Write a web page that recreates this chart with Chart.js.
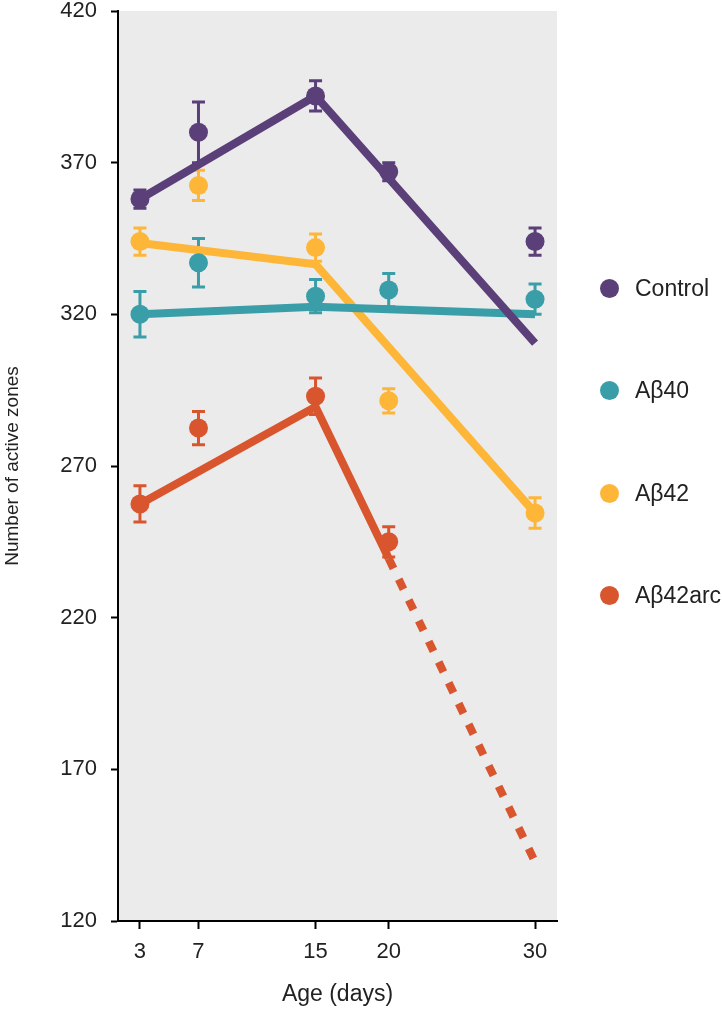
<!DOCTYPE html>
<html>
<head>
<meta charset="utf-8">
<title>Active zones by age</title>
<script src="https://cdn.jsdelivr.net/npm/chart.js@4.4.0/dist/chart.umd.min.js"></script>
<style>
  body { margin: 0; background: #fff; font-family: "Liberation Sans", Arial, sans-serif; }
  #wrap { position: relative; width: 722px; height: 1009px; }
  #legend .item { position: absolute; left: 600px; height: 20px; display: flex; align-items: center; font-size: 23px; color: #222; }
  #legend .dot { width: 19px; height: 19px; border-radius: 50%; margin-right: 16px; }
</style>
</head>
<body>
<div id="wrap">
  <canvas id="chart" width="722" height="1009"></canvas>
  <div id="legend"></div>
</div>
<script>
/* ages on the x axis */
const ages = [3, 7, 15, 20, 30];
const groups = ["Control", "Aβ40", "Aβ42", "Aβ42arc"];
const colors = ["#5a3f78", "#3a9ea9", "#fdb638", "#d9552e"];

// means and error (+/-)
const controlMean = [358, 380, 392, 367, 344];
const controlErr  = [3, 10, 5, 3, 4.5];
const ab40Mean    = [320, 337, 326, 328, 325];
const ab40Err     = [7.5, 8, 5.5, 5.5, 5];
const ab42Mean    = [344, 362.5, 342, 291.5, 254.5];
const ab42Err     = [4.5, 5, 4.5, 4, 5];
const arcMean     = [257.5, 282.5, 293, 245, null];
const arcErr      = [6, 5.5, 6, 5, null];

// fitted lines
const fitAges    = [3, 15, 30];
const controlFit = [358, 392, 310.5];
const ab40Fit    = [320, 322.5, 320];
const ab42Fit    = [343.5, 336.5, 254.5];
const arcFitAges = [3, 15, 20, 30];
const arcFit     = [257.5, 289.5, 239.5, 139.5];

const yTicks = [120, 170, 220, 270, 320, 370, 420];

const means = [controlMean, ab40Mean, ab42Mean, arcMean];
const errs  = [controlErr, ab40Err, ab42Err, arcErr];
const fits  = [
  { xs: fitAges, ys: controlFit },
  { xs: fitAges, ys: ab40Fit },
  { xs: fitAges, ys: ab42Fit },
  { xs: arcFitAges, ys: arcFit },
];

function toPoints(xs, ys) {
  const pts = [];
  xs.forEach((x, i) => { if (ys[i] != null) pts.push({ x: x, y: ys[i] }); });
  return pts;
}

const datasets = [];
groups.forEach((g, i) => {
  datasets.push({
    label: g + " fit",
    data: toPoints(fits[i].xs, fits[i].ys),
    showLine: true,
    borderColor: colors[i],
    backgroundColor: colors[i],
    borderWidth: 8,
    pointRadius: 0,
    segment: i === 3 ? {
      borderDash: (c) => c.p0.parsed.x >= 20 ? [11, 12] : undefined,
    } : undefined,
  });
  datasets.push({
    label: g,
    data: toPoints(ages, means[i]),
    errors: errs[i].filter((e) => e != null),
    showLine: false,
    backgroundColor: colors[i],
    borderColor: colors[i],
    pointRadius: 9.5,
    pointBorderWidth: 0,
  });
});

/** grey plot background */
const plotBg = {
  id: "plotBg",
  beforeDraw(chart) {
    const { ctx, chartArea: a } = chart;
    ctx.save();
    ctx.fillStyle = "#ebebeb";
    ctx.fillRect(a.left, a.top, a.right - a.left, a.bottom - a.top);
    ctx.restore();
  },
};

/** error bars drawn under the points */
const errorBars = {
  id: "errorBars",
  beforeDatasetsDraw(chart) {
    const { ctx } = chart;
    const x = chart.scales.x, y = chart.scales.y;
    chart.data.datasets.forEach((ds) => {
      if (!ds.errors) return;
      ctx.save();
      ctx.strokeStyle = ds.borderColor;
      ctx.lineWidth = 3;
      ds.data.forEach((p, j) => {
        const e = ds.errors[j];
        const px = x.getPixelForValue(p.x);
        const top = y.getPixelForValue(p.y + e);
        const bot = y.getPixelForValue(p.y - e);
        ctx.beginPath();
        ctx.moveTo(px, top); ctx.lineTo(px, bot);
        ctx.moveTo(px - 6.5, top); ctx.lineTo(px + 6.5, top);
        ctx.moveTo(px - 6.5, bot); ctx.lineTo(px + 6.5, bot);
        ctx.stroke();
      });
      ctx.restore();
    });
  },
};

const tickFont = { family: "Liberation Sans", size: 22 };

new Chart(document.getElementById("chart"), {
  type: "scatter",
  data: { datasets },
  plugins: [plotBg, errorBars],
  options: {
    responsive: false,
    animation: false,
    layout: { padding: { left: 0, right: 165, top: 0, bottom: 0 } },
    plugins: { legend: { display: false }, tooltip: { enabled: false } },
    scales: {
      x: {
        type: "linear",
        min: 1.5,
        max: 31.5,
        afterBuildTicks: (s) => { s.ticks = ages.map((v) => ({ value: v })); },
        afterFit: (s) => { s.height = 88; },
        grid: { drawOnChartArea: false, drawTicks: true, tickLength: 8, tickColor: "#000", tickWidth: 2 },
        border: { color: "#000", width: 2 },
        ticks: { font: tickFont, color: "#222", padding: 10 },
        title: { display: true, text: "Age (days)", font: { family: "Liberation Sans", size: 23 }, color: "#222", padding: 1 },
      },
      y: {
        min: 120,
        max: 420,
        afterBuildTicks: (s) => { s.ticks = yTicks.map((v) => ({ value: v })); },
        afterFit: (s) => { s.width = 118; s.paddingTop = 11; s.paddingBottom = 0; },
        grid: { drawOnChartArea: false, drawTicks: true, tickLength: 7, tickColor: "#000", tickWidth: 2 },
        border: { color: "#000", width: 2 },
        ticks: { font: tickFont, color: "#222", padding: 14 },
        title: { display: true, text: "Number of active zones", font: { family: "Liberation Sans", size: 19 }, color: "#222", padding: 1 },
      },
    },
  },
});

// legend on the right
const legendEl = document.getElementById("legend");
const legendTops = [278, 380, 483, 585];
groups.forEach((g, i) => {
  const div = document.createElement("div");
  div.className = "item";
  div.style.top = legendTops[i] + "px";
  div.innerHTML = `<span class="dot" style="background:${colors[i]}"></span><span>${g}</span>`;
  legendEl.appendChild(div);
});
</script>
</body>
</html>
